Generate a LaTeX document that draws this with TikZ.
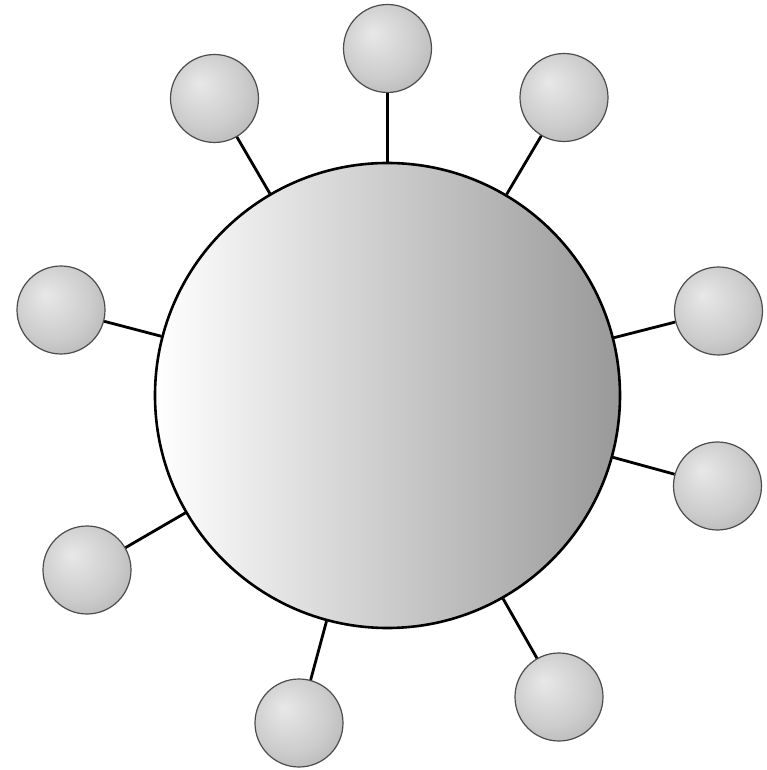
\documentclass[tikz,border=0pt]{standalone}
\usepackage{tikz}

\pgfdeclareradialshading{knob}{\pgfpoint{-9bp}{9bp}}{color(0bp)=(gray!18); color(10bp)=(gray!28); color(22bp)=(gray!40); color(30bp)=(gray!52); color(50bp)=(gray!56)}

\begin{document}
\begin{tikzpicture}[x=1pt,y=1pt,
  cellbody/.style={circle,draw=black,line width=2.6pt,inner sep=0pt,minimum size=465pt,
    shading=axis,left color=white,right color=black!40},
  knobball/.style={circle,draw=black!70,line width=1.2pt,inner sep=0pt,minimum size=88pt,shading=knob},
  spoke/.style={line width=2.8pt,black}]
\path[use as bounding box] (-387.5,-374.5) rectangle (379.5,395.5);

\node[cellbody] (cell) at (0,0) {};

\node[knobball] (top) at (0,347) {};
\node[knobball] (topleft) at (-173,297) {};
\node[knobball] (topright) at (176.5,298) {};
\node[knobball] (left) at (-326.5,85.5) {};
\node[knobball] (right) at (331,84.5) {};
\node[knobball] (lowright) at (330,-90.5) {};
\node[knobball] (lowleft) at (-300.5,-174.5) {};
\node[knobball] (bottomleft) at (-88.5,-327.5) {};
\node[knobball] (bottomright) at (171.5,-301.5) {};

\draw[spoke] (cell) -- (top);
\draw[spoke] (cell) -- (topleft);
\draw[spoke] (cell) -- (topright);
\draw[spoke] (cell) -- (left);
\draw[spoke] (cell) -- (right);
\draw[spoke] (cell) -- (lowright);
\draw[spoke] (cell) -- (lowleft);
\draw[spoke] (cell) -- (bottomleft);
\draw[spoke] (cell) -- (bottomright);
\end{tikzpicture}
\end{document}
